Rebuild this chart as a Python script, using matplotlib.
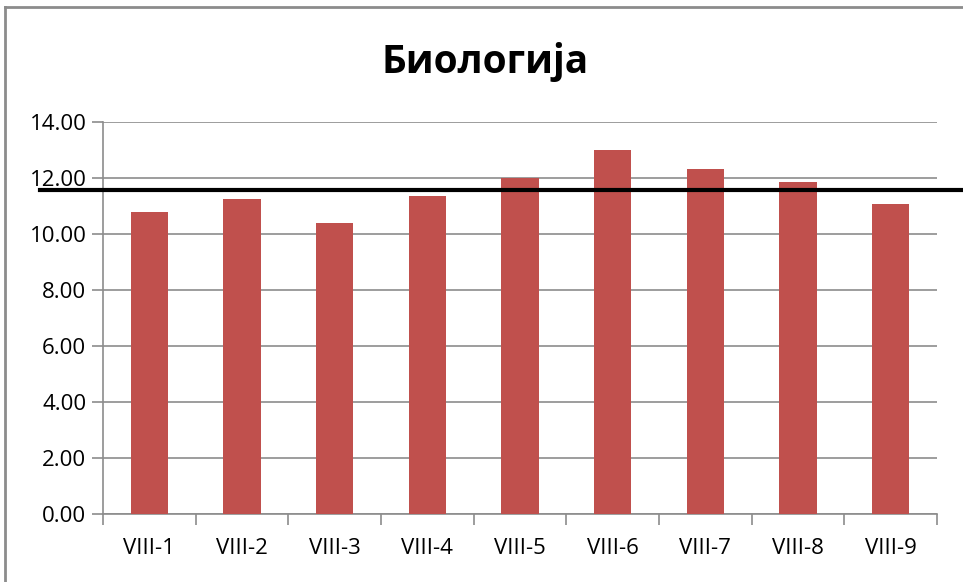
import matplotlib
matplotlib.use('Agg')
import matplotlib.pyplot as plt
import matplotlib.transforms as mtransforms
from matplotlib.ticker import FormatStrFormatter, FixedLocator

# Data
classes = ['VIII-1', 'VIII-2', 'VIII-3', 'VIII-4', 'VIII-5', 'VIII-6', 'VIII-7', 'VIII-8', 'VIII-9']
scores = [10.80, 11.25, 10.38, 11.36, 12.00, 13.00, 12.32, 11.86, 11.08]
average = 11.57

plt.rcParams['font.family'] = ['Open Sans', 'DejaVu Sans']

fig = plt.figure(figsize=(9.63, 5.82), dpi=100)
ax = fig.add_axes([103 / 963, 1 - 514 / 582, 834 / 963, 392 / 582])

x = list(range(len(classes)))
ax.bar(x, scores, width=0.4, color='#C0504D', zorder=3)

ax.set_xlim(-0.5, len(classes) - 0.5)
ax.set_ylim(0, 14)
ax.set_yticks([0, 2, 4, 6, 8, 10, 12, 14])
ax.yaxis.set_major_formatter(FormatStrFormatter('%.2f'))
ax.grid(axis='y', color='#8c8c8c', linewidth=1.2, zorder=0)

# category labels centred, tick marks between categories
ax.set_xticks(x)
ax.set_xticklabels(classes, fontsize=16)
ax.tick_params(axis='x', length=0, pad=17)
ax.xaxis.set_minor_locator(FixedLocator([i - 0.5 for i in range(len(classes) + 1)]))
ax.tick_params(axis='x', which='minor', length=8, width=1.2, color='#8c8c8c', direction='out')
ax.tick_params(axis='y', length=8, width=1.2, color='#8c8c8c', labelsize=16, pad=4)

for side in ['top', 'right']:
    ax.spines[side].set_visible(False)
for side in ['left', 'bottom']:
    ax.spines[side].set_color('#8c8c8c')
    ax.spines[side].set_linewidth(1.2)

# average line running past the plot area to the figure edge
trans = mtransforms.blended_transform_factory(fig.transFigure, ax.transData)
ax.plot([40 / 963, 1.0], [average, average], color='black', linewidth=3,
        transform=trans, clip_on=False, zorder=5)

fig.text(485 / 963, 1 - 73 / 582, 'Биологија', fontsize=28, fontweight='bold',
         ha='center', va='baseline')

# chart border (only the top and left edges are visible)
fig.add_artist(plt.Line2D([4.5 / 963, 4.5 / 963], [0, 1 - 6.5 / 582], color='#8c8c8c',
                          linewidth=2, transform=fig.transFigure))
fig.add_artist(plt.Line2D([4.5 / 963, 1], [1 - 6.5 / 582, 1 - 6.5 / 582], color='#8c8c8c',
                          linewidth=2, transform=fig.transFigure))

plt.savefig('out.png', dpi=100)
